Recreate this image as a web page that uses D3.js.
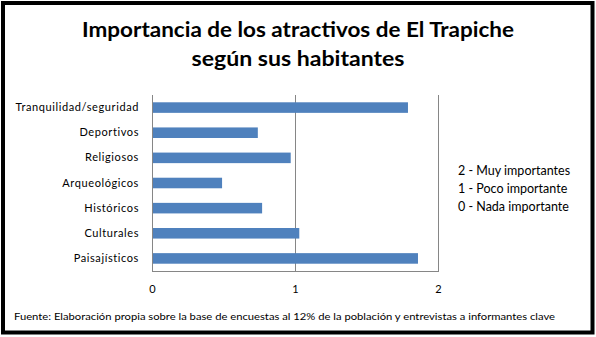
<!DOCTYPE html>
<html>
<head>
<meta charset="utf-8">
<script src="https://cdn.jsdelivr.net/npm/d3@7"></script>
<style>
  html, body { margin: 0; padding: 0; background: #fff; }
  svg { display: block; }
  text { font-family: Lato, "Open Sans", sans-serif; fill: #000; }
</style>
</head>
<body>
<svg id="chart" width="596" height="337"></svg>
<script>
// Atractivos y su importancia media (escala 0–2)
const categories = ["Tranquilidad/seguridad", "Deportivos", "Religiosos", "Arqueológicos", "Históricos", "Culturales", "Paisajísticos"];
const values = [1.79, 0.74, 0.97, 0.49, 0.77, 1.03, 1.86];
const tickValues = [0, 1, 2];
const legendLines = ["2 - Muy importantes", "1 - Poco importante", "0 - Nada importante"];
const titleLines = ["Importancia de los atractivos de El Trapiche", "según sus habitantes"];
const sourceNote = "Fuente: Elaboración propia sobre la base de encuestas al 12%  de la población y entrevistas a informantes clave";

const svg = d3.select("#chart");

// Marco exterior
svg.append("rect")
  .attr("x", 3).attr("y", 3).attr("width", 589.5).attr("height", 329.5)
  .attr("fill", "#fff").attr("stroke", "#000").attr("stroke-width", 4);

// Título
svg.append("g").selectAll("text").data(titleLines).join("text")
  .attr("x", 298).attr("y", (d, i) => 37 + i * 29)
  .attr("text-anchor", "middle")
  .attr("font-size", 21).attr("font-weight", "bold")
  .attr("textLength", (d, i) => i === 0 ? 432 : 213)
  .attr("lengthAdjust", "spacingAndGlyphs")
  .text(d => d);

const plot = { left: 152, right: 438, top: 95, bottom: 271 };

const x = d3.scaleLinear().domain([0, 2]).range([plot.left, plot.right]);
const y = d3.scaleBand().domain(categories).range([plot.top, plot.bottom]).paddingInner(0.58).paddingOuter(0.29);

// Líneas de cuadrícula verticales y base del área
svg.append("g").selectAll("line").data(tickValues).join("line")
  .attr("x1", d => x(d) + 0.5).attr("x2", d => x(d) + 0.5)
  .attr("y1", plot.top).attr("y2", plot.bottom)
  .attr("stroke", "#868686").attr("stroke-width", 1);

svg.append("line")
  .attr("x1", plot.left).attr("x2", plot.right + 1)
  .attr("y1", plot.bottom + 0.5).attr("y2", plot.bottom + 0.5)
  .attr("stroke", "#868686").attr("stroke-width", 1);

// Barras
svg.append("g").selectAll("rect").data(categories).join("rect")
  .attr("x", x(0) + 1)
  .attr("y", d => y(d))
  .attr("width", (d, i) => x(values[i]) - x(0) - 1)
  .attr("height", y.bandwidth())
  .attr("fill", "#4F81BD");

// Eje de categorías
const yAxis = svg.append("g")
  .attr("transform", `translate(${plot.left - 13},0)`)
  .call(d3.axisLeft(y).tickSize(0).tickPadding(0));
yAxis.select(".domain").remove();
yAxis.selectAll("text")
  .attr("font-size", 11).attr("letter-spacing", 0.6)
  .style("font-family", "Lato, sans-serif").attr("fill", "#000");

// Eje de valores
const xAxis = svg.append("g")
  .attr("transform", `translate(0,${plot.bottom})`)
  .call(d3.axisBottom(x).tickValues(tickValues).tickFormat(d3.format("d")).tickSize(0));
xAxis.select(".domain").remove();
xAxis.selectAll("text")
  .attr("y", 22).attr("dy", null)
  .attr("font-size", 11)
  .style("font-family", "Lato, sans-serif").attr("fill", "#000");

// Leyenda de la escala
svg.append("g").selectAll("text").data(legendLines).join("text")
  .attr("x", 458).attr("y", (d, i) => 175 + i * 18)
  .attr("font-size", 12.5)
  .text(d => d);

// Fuente
svg.append("text")
  .attr("x", 14).attr("y", 320)
  .attr("font-size", 10)
  .attr("textLength", 541).attr("lengthAdjust", "spacingAndGlyphs")
  .text(sourceNote);
</script>
</body>
</html>
